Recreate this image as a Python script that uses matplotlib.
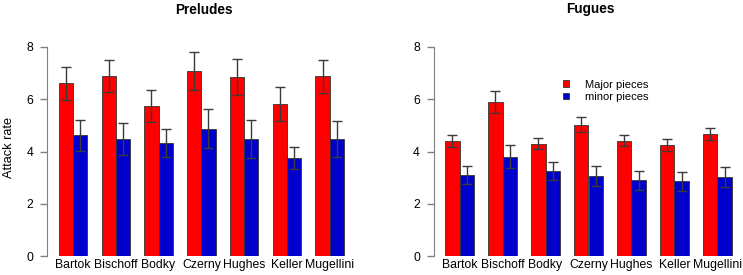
#!/usr/bin/env python
# Attack rate per composer, major vs minor pieces (preludes and fugues)
import numpy as np
import matplotlib
matplotlib.use('Agg')
import matplotlib.pyplot as plt
from matplotlib.patches import Patch

plt.rcParams['font.family'] = ['Liberation Sans', 'DejaVu Sans']

composers = ['Bartok', 'Bischoff', 'Bodky', 'Czerny', 'Hughes', 'Keller', 'Mugellini']

prelude_major = [6.61, 6.90, 5.75, 7.08, 6.85, 5.82, 6.88]
prelude_major_err = [0.64, 0.62, 0.62, 0.74, 0.70, 0.66, 0.63]
prelude_minor = [4.62, 4.48, 4.34, 4.87, 4.48, 3.76, 4.48]
prelude_minor_err = [0.60, 0.62, 0.54, 0.75, 0.71, 0.41, 0.70]

fugue_major = [4.42, 5.91, 4.31, 5.03, 4.42, 4.27, 4.69]
fugue_major_err = [0.23, 0.42, 0.21, 0.28, 0.22, 0.23, 0.23]
fugue_minor = [3.10, 3.81, 3.25, 3.07, 2.90, 2.87, 3.03]
fugue_minor_err = [0.34, 0.43, 0.35, 0.38, 0.36, 0.36, 0.39]

yticks = [0, 2, 4, 6, 8]

RED = '#ff0000'
BLUE = '#0000cd'
W, H = 743., 275.
FS = 8.8


def draw_panel(ax, major, major_err, minor, minor_err):
    n = len(composers)
    grp = 3 * np.arange(n)
    xr = grp + 1.5
    xb = grp + 2.5
    ax.bar(xr, major, width=1, color=RED, edgecolor='#333333', linewidth=0.6)
    ax.bar(xb, minor, width=1, color=BLUE, edgecolor='#333333', linewidth=0.6)
    ax.errorbar(xr, major, yerr=major_err, fmt='none', ecolor='#3a3a3a',
                elinewidth=1, capsize=3.5, capthick=1)
    ax.errorbar(xb, minor, yerr=minor_err, fmt='none', ecolor='#3a3a3a',
                elinewidth=1, capsize=3.5, capthick=1)
    ax.set_xlim(0.2, 21.8)
    ax.set_ylim(0, 8.32)
    ax.set_xticks(grp + 2)
    ax.set_xticklabels(composers, fontsize=FS)
    ax.set_yticks(yticks)
    ax.set_yticklabels([str(t) for t in yticks], fontsize=FS)
    for s in ['top', 'right', 'bottom']:
        ax.spines[s].set_visible(False)
    ax.spines['left'].set_bounds(0, 8)
    ax.spines['left'].set_color('#808080')
    ax.tick_params(axis='y', length=5, width=1, color='#808080', pad=5)
    ax.tick_params(axis='x', length=0, pad=2)


fig = plt.figure(figsize=(W / 100, H / 100), dpi=100)
y0 = (H - 256.3) / H
hh = 8.32 * 26.17 / H
ax1 = fig.add_axes([47.3 / W, y0, 308.1 / W, hh])
ax2 = fig.add_axes([433.8 / W, y0, 309.4 / W, hh])

draw_panel(ax1, prelude_major, prelude_major_err, prelude_minor, prelude_minor_err)
draw_panel(ax2, fugue_major, fugue_major_err, fugue_minor, fugue_minor_err)

fig.text(204 / W, (H - 9.5) / H, 'Preludes', fontsize=9.8, fontweight='bold',
         ha='center', va='center')
fig.text(590 / W, (H - 9.5) / H, 'Fugues', fontsize=9.8, fontweight='bold',
         ha='center', va='center')

ax1.set_ylabel('Attack rate', fontsize=9.2, labelpad=8)

handles = [Patch(facecolor=RED, edgecolor='#333333', linewidth=0.6),
           Patch(facecolor=BLUE, edgecolor='#333333', linewidth=0.6)]
fig.legend(handles, ['Major pieces', 'minor pieces'], loc='upper left',
           bbox_to_anchor=(563. / W, (H - 79.5) / H), frameon=False,
           fontsize=8, handlelength=0.52, handleheight=0.5,
           handletextpad=1.45, labelspacing=0.22, borderpad=0, borderaxespad=0)

fig.savefig('out.png', dpi=100)
